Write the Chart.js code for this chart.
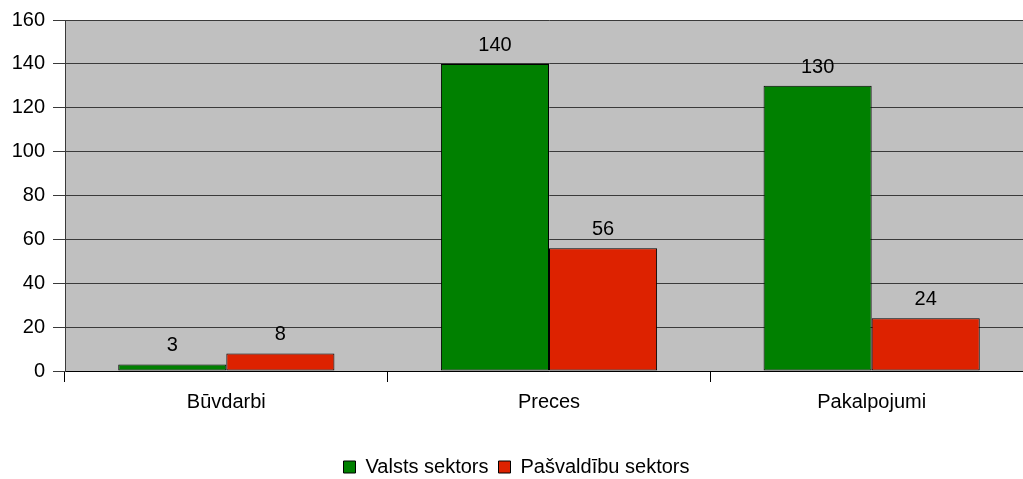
<!DOCTYPE html>
<html>
<head>
<meta charset="utf-8">
<script src="https://cdn.jsdelivr.net/npm/chart.js@4/dist/chart.umd.min.js"></script>
<style>
  html, body { margin: 0; padding: 0; background: #fff; overflow: hidden; }
  #wrap { width: 1033px; height: 479px; }
</style>
</head>
<body>
<div id="wrap"><canvas id="chart" width="1033" height="479"></canvas></div>
<script>
// data
var categories = ["Būvdarbi", "Preces", "Pakalpojumi"];
var valsts = [3, 140, 130];
var pasvaldibu = [8, 56, 24];
var seriesNames = ["Valsts sektors", "Pašvaldību sektors"];
var yTicks = [0, 20, 40, 60, 80, 100, 120, 140, 160];

Chart.defaults.font.family = "'Liberation Sans', Arial, sans-serif";
Chart.defaults.font.size = 20;
Chart.defaults.color = '#000';

// gray plot background
var plotBg = {
    id: 'plotBg',
    beforeDraw: function (chart) {
        var a = chart.chartArea, ctx = chart.ctx;
        ctx.save();
        ctx.fillStyle = '#c0c0c0';
        ctx.fillRect(a.left, a.top, a.right - a.left, a.bottom - a.top);
        ctx.restore();
    }
};

// value labels above bars
var valueLabels = {
    id: 'valueLabels',
    afterDatasetsDraw: function (chart) {
        var ctx = chart.ctx;
        ctx.save();
        ctx.font = "20px 'Liberation Sans', Arial, sans-serif";
        ctx.fillStyle = '#000';
        ctx.textAlign = 'center';
        ctx.textBaseline = 'alphabetic';
        chart.data.datasets.forEach(function (ds, i) {
            chart.getDatasetMeta(i).data.forEach(function (bar, j) {
                ctx.fillText(ds.data[j], bar.x, bar.y - 13);
            });
        });
        ctx.restore();
    }
};

var ctx = document.getElementById('chart').getContext('2d');
new Chart(ctx, {
    type: 'bar',
    data: {
        labels: categories,
        datasets: [{
            label: seriesNames[0],
            data: valsts,
            backgroundColor: '#008000',
            borderColor: '#000',
            borderWidth: 1,
            borderSkipped: false
        }, {
            label: seriesNames[1],
            data: pasvaldibu,
            backgroundColor: '#dd2200',
            borderColor: '#000',
            borderWidth: 1,
            borderSkipped: false
        }]
    },
    options: {
        responsive: false,
        animation: false,
        layout: { padding: { top: 16, left: 0, right: 0, bottom: -8 } },
        datasets: { bar: { categoryPercentage: 0.67, barPercentage: 1.0 } },
        scales: {
            x: {
                offset: true,
                grid: {
                    offset: true,
                    drawOnChartArea: false,
                    drawTicks: true,
                    tickLength: 11,
                    color: '#000'
                },
                border: { color: '#000', width: 1 },
                ticks: { padding: 8 },
                afterFit: function (s) { s.height = 76; }
            },
            y: {
                min: 0,
                max: 160,
                afterBuildTicks: function (s) {
                    s.ticks = yTicks.map(function (v) { return { value: v }; });
                },
                grid: {
                    color: '#3a3a3a',
                    tickLength: 12,
                    drawTicks: true
                },
                border: { color: '#3a3a3a', width: 1 },
                ticks: { padding: 8 },
                afterFit: function (s) { s.width = 65; }
            }
        },
        plugins: {
            legend: {
                position: 'bottom',
                labels: {
                    boxWidth: 12,
                    boxHeight: 12,
                    padding: 10,
                    useBorderRadius: false
                }
            },
            tooltip: { enabled: false }
        }
    },
    plugins: [plotBg, valueLabels]
});
</script>
</body>
</html>
